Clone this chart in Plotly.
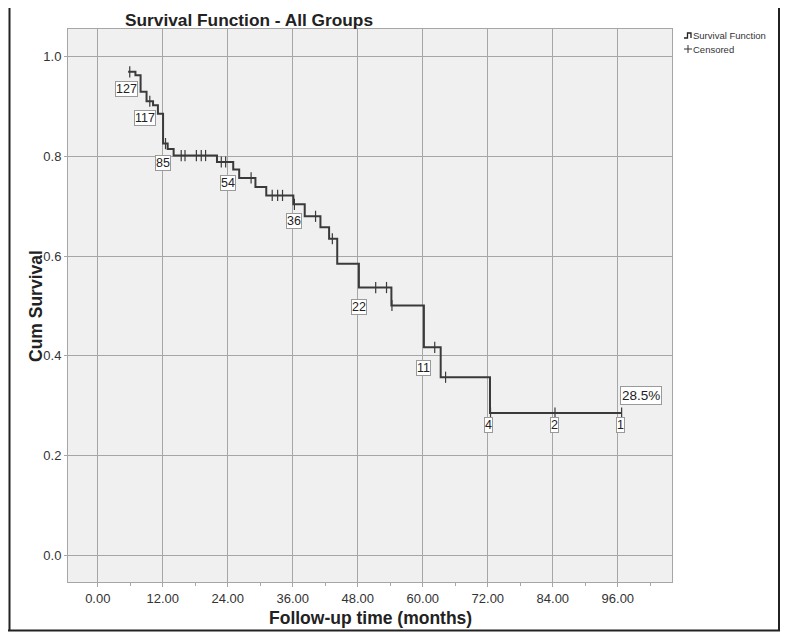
import numpy as np
import plotly.graph_objects as go

# Kaplan-Meier steps (months, cumulative survival after the step)
step_t = [5.6, 6.95, 7.9, 9.0, 10.2, 11.1, 12.05, 12.9, 14.0, 22.0, 25.0, 26.1, 29.1, 31.1,
          36.1, 38.2, 41.1, 42.7, 44.2, 48.2, 54.2, 60.2, 63.3, 72.4, 96.7]
step_s = [0.970, 0.963, 0.930, 0.911, 0.903, 0.886, 0.826, 0.815, 0.802, 0.789, 0.774, 0.757,
          0.739, 0.722, 0.704, 0.680, 0.658, 0.635, 0.585, 0.537, 0.501, 0.417, 0.357, 0.285, 0.285]

# censored observations (months)
cens_t = [5.9, 9.6, 12.5, 15.4, 16.1, 18.2, 19.1, 19.9, 22.8, 23.6, 28.3, 32.2, 33.2, 34.1,
          36.3, 40.2, 43.3, 51.3, 53.3, 54.3, 62.2, 64.2, 72.5, 84.4, 96.7]

# number at risk labels
risk_t = [5.3, 8.7, 12.05, 24.05, 36.2, 48.2, 60.2, 72.2, 84.4, 96.4]
risk_n = [127, 117, 85, 54, 36, 22, 11, 4, 2, 1]
risk_y = [0.936, 0.878, 0.787, 0.747, 0.670, 0.498, 0.375, 0.261, 0.261, 0.261]

x_ticks = [0, 12, 24, 36, 48, 60, 72, 84, 96]
y_ticks = [0.0, 0.2, 0.4, 0.6, 0.8, 1.0]

idx = np.searchsorted(step_t, cens_t, side="right") - 1
cens_s = np.array(step_s)[idx]

line_col = "#3a3a3a"
grid_col = "#a6a6a6"
font = "Liberation Sans, Arial, sans-serif"

# the page body puts the figure 8px in from the window corner
OFF = 8
W, H = 791 - OFF, 632 - OFF
# plot area in window pixels: 68..672 x 29..582
L, T = 68 - OFF, 29 - OFF
R, B = 791 - 672, 632 - 582
pw, ph = W - L - R, H - T - B
px = lambda v: (v - OFF - L) / pw          # window pixel x -> paper
py = lambda v: (H + OFF - B - v) / ph      # window pixel y -> paper

fig = go.Figure()
fig.add_trace(go.Scatter(x=step_t, y=step_s, mode="lines", line_shape="hv",
                         line=dict(color=line_col, width=2), name="Survival Function"))
fig.add_trace(go.Scatter(x=cens_t, y=cens_s, mode="markers", name="Censored",
                         marker=dict(symbol="line-ns", size=8,
                                     line=dict(color=line_col, width=1.2))))

for t, n, y in zip(risk_t, risk_n, risk_y):
    fig.add_annotation(x=t, y=y, text=str(n), showarrow=False,
                       font=dict(family=font, size=12.5, color="#222"),
                       bgcolor="white", bordercolor="#9a9a9a", borderwidth=1, borderpad=0)

fig.add_annotation(x=100.3, y=0.320, text="28.5%", showarrow=False,
                   font=dict(family=font, size=13.5, color="#222"),
                   bgcolor="white", bordercolor="#9a9a9a", borderwidth=1, borderpad=1)

# axis titles
fig.add_annotation(xref="paper", yref="paper", x=px(36), y=py(306), textangle=-90,
                   xanchor="center", yanchor="middle",
                   text="<b>Cum Survival</b>", showarrow=False,
                   font=dict(family=font, size=17.5, color="#222"))
fig.add_annotation(xref="paper", yref="paper", x=px(370), y=py(618),
                   xanchor="center", yanchor="middle",
                   text="<b>Follow-up time (months)</b>", showarrow=False,
                   font=dict(family=font, size=17.5, color="#222"))

# legend drawn at the top right
fig.add_annotation(xref="paper", yref="paper", x=px(691), y=py(36), xanchor="left", yanchor="middle",
                   text="Survival Function", showarrow=False,
                   font=dict(family=font, size=9.5, color="#333"))
fig.add_annotation(xref="paper", yref="paper", x=px(691), y=py(49), xanchor="left", yanchor="middle",
                   text="Censored", showarrow=False,
                   font=dict(family=font, size=9.5, color="#333"))
fig.add_shape(type="path", xref="paper", yref="paper",
              path=f"M {px(684)},{py(38)} L {px(687.5)},{py(38)} L {px(687.5)},{py(33)} "
                   f"L {px(691)},{py(33)} L {px(691)},{py(38)}",
              line=dict(color="#222", width=1.3))
fig.add_shape(type="line", xref="paper", yref="paper", x0=px(684), x1=px(692), y0=py(49), y1=py(49),
              line=dict(color="#333", width=1))
fig.add_shape(type="line", xref="paper", yref="paper", x0=px(688), x1=px(688), y0=py(45), y1=py(53),
              line=dict(color="#333", width=1))

# outer frame of the image (left, right, bottom) kept inside the visible page
for x0, y0, x1, y1 in [(9.5, 8, 9.5, 631), (779, 8, 779, 631), (8, 630.5, 780, 630.5)]:
    fig.add_shape(type="line", xref="paper", yref="paper",
                  x0=px(x0), x1=px(x1), y0=py(y0), y1=py(y1),
                  line=dict(color="#222", width=2))

fig.update_layout(
    width=W, height=H,
    margin=dict(l=L, r=R, t=T, b=B, autoexpand=False),
    paper_bgcolor="white", plot_bgcolor="#f0f0f0",
    font=dict(family=font, color="#333"),
    title=dict(text="<b>Survival Function - All Groups</b>", x=(125 - OFF) / W,
               xref="container", xanchor="left", y=1 - (20 - OFF) / H, yanchor="middle",
               font=dict(size=17.3, color="#222", family=font)),
    showlegend=False,
)
fig.update_xaxes(range=[-5.5, 106], tickvals=x_ticks, tickformat=".2f", automargin=False,
                 showgrid=True, gridcolor=grid_col, gridwidth=1, zeroline=False,
                 showline=True, linecolor=grid_col, mirror=True,
                 ticks="outside", ticklen=4, tickcolor=grid_col,
                 minor=dict(dtick=6, tick0=0, ticks="outside", ticklen=3, tickcolor=grid_col, showgrid=False),
                 tickfont=dict(size=13, color="#333"))
fig.update_yaxes(range=[-0.054, 1.056], tickvals=y_ticks, tickformat=".1f", automargin=False,
                 showgrid=True, gridcolor=grid_col, gridwidth=1, zeroline=False,
                 showline=True, linecolor=grid_col, mirror=True,
                 ticks="outside", ticklen=3, tickcolor=grid_col,
                 tickfont=dict(size=13, color="#333"))

fig.write_html("out.html")
